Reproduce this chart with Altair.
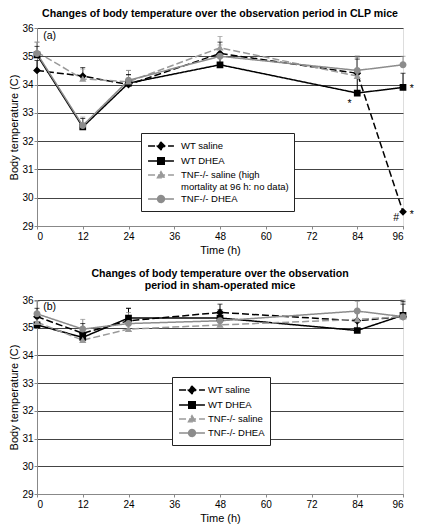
import altair as alt
import pandas as pd

# ---------------- data ----------------
hours = [0, 12, 24, 48, 84, 96]
series_names = ["WT saline", "WT DHEA", "TNF-/- saline", "TNF-/- DHEA"]

# (a) CLP mice
clp_wt_saline = [34.5, 34.3, 34.0, 35.1, 34.4, 29.5]
clp_wt_dhea = [35.05, 32.5, 34.05, 34.7, 33.7, 33.9]
clp_tnf_saline = [35.15, 34.2, 34.1, 35.3, 34.3, None]
clp_tnf_dhea = [35.1, 32.55, 34.15, 35.0, 34.5, 34.7]

clp_wt_saline_err = [0.35, 0.3, 0.35, 0.4, 0.5, 0.0]
clp_wt_dhea_err = [0.3, 0.3, 0.3, 0.3, 1.3, 0.5]
clp_tnf_saline_err = [0.35, 0.35, 0.4, 0.4, 0.7, None]
clp_tnf_dhea_err = [0.4, 0.3, 0.35, 0.4, 0.45, 0.3]

# (b) sham-operated mice
sham_wt_saline = [35.4, 34.8, 35.25, 35.55, 35.25, 35.4]
sham_wt_dhea = [35.1, 34.65, 35.35, 35.35, 34.9, 35.45]
sham_tnf_saline = [35.2, 34.55, 34.95, 35.1, 35.3, 35.4]
sham_tnf_dhea = [35.5, 34.95, 35.15, 35.25, 35.6, 35.4]

sham_wt_saline_err = [0.3, 0.35, 0.45, 0.3, 0.3, 0.55]
sham_wt_dhea_err = [0.3, 0.3, 0.35, 0.3, 0.3, 0.4]
sham_tnf_saline_err = [0.3, 0.4, 0.4, 0.3, 0.35, 0.5]
sham_tnf_dhea_err = [0.45, 0.35, 0.4, 0.35, 0.35, 0.6]

# annotations
clp_notes = ["(a)", "*", "*", "#", "*"]
clp_notes_x = [3.3, 82.0, 98.3, 94.2, 98.3]
clp_notes_y = [35.72, 33.3, 33.85, 29.28, 29.38]
sham_notes = ["(b)"]
sham_notes_x = [3.3]
sham_notes_y = [35.75]

y_ticks = [29, 30, 31, 32, 33, 34, 35, 36]
x_ticks = [0, 12, 24, 36, 48, 60, 72, 84, 96]

title_a = "Changes of body temperature over the observation period in CLP mice"
title_b = ["Changes of body temperature over the observation", "period in sham-operated mice"]

# ---------------- styling ----------------
FONT = "Liberation Sans"
colors = ["#000000", "#000000", "#9a9a9a", "#8c8c8c"]
dashes = [[7, 3], [1, 0], [7, 3], [1, 0]]
stub = "M-1.85,0H1.85"
shapes = [
    stub + "M0,-0.56L0.56,0L0,0.56L-0.56,0Z",
    stub + "M-0.48,-0.48H0.48V0.48H-0.48Z",
    stub + "M0,-0.5L0.52,0.4H-0.52Z",
    stub + "M0.5,0A0.5,0.5,0,1,1,-0.5,0A0.5,0.5,0,1,1,0.5,0Z",
]


def long_df(values, errs):
    rows = []
    for name, vals, es in zip(series_names, values, errs):
        for h, v, e in zip(hours, vals, es):
            if v is None:
                continue
            rows.append({"hour": h, "temp": v, "err": e, "series": name})
    return pd.DataFrame(rows)


def panel(df, notes_df, title, height, lx, ly, label_offset, label_expr=None):
    legend_kw = dict(
        title=None, orient="none", legendX=lx, legendY=ly, direction="vertical",
        fillColor="white", strokeColor="#222", padding=5,
        labelFont=FONT, labelFontSize=9.5, labelColor="black",
        symbolSize=196, symbolStrokeWidth=1.3, symbolOffset=7, symbolOpacity=1,
        labelOffset=label_offset, rowPadding=0, labelLimit=300,
    )
    if label_expr:
        legend_kw["labelExpr"] = label_expr
    leg = alt.Legend(**legend_kw)

    col = alt.Color("series:N", scale=alt.Scale(domain=series_names, range=colors), legend=leg)
    stroke = alt.Stroke("series:N", scale=alt.Scale(domain=series_names, range=colors), legend=leg)
    dash = alt.StrokeDash("series:N", scale=alt.Scale(domain=series_names, range=dashes), legend=leg)
    shp = alt.Shape("series:N", scale=alt.Scale(domain=series_names, range=shapes), legend=leg)

    xscale = alt.Scale(domain=[0, 96], nice=False)
    yscale = alt.Scale(domain=[29, 36], nice=False, zero=False)
    xaxis = alt.Axis(values=x_ticks, tickCount=9, title="Time (h)", grid=False, tickSize=3,
                     labelPadding=2, titlePadding=3, labelAngle=0,
                     labelOverlap=False, titleFontWeight="normal")
    yaxis = alt.Axis(values=y_ticks, tickCount=8, title="Body temperature (C)", grid=True,
                     gridColor="#444", gridWidth=1, tickSize=3,
                     labelPadding=1, titlePadding=2, labelOverlap=False,
                     labelFlush=False, titleFontWeight="normal")
    x = alt.X("hour:Q", scale=xscale, axis=xaxis)
    y = alt.Y("temp:Q", scale=yscale, axis=yaxis)

    base = alt.Chart(df)
    errs = base.transform_calculate(top="datum.temp + datum.err").transform_filter(
        "datum.err > 0")
    rules = errs.mark_rule(strokeWidth=1).encode(x=x, y=y, y2="top:Q", color=col)
    caps = errs.mark_tick(orient="horizontal", size=5, thickness=1).encode(
        x=x, y=alt.Y("top:Q", scale=yscale, axis=yaxis), color=col)
    lines = base.mark_line(strokeWidth=1.5).encode(x=x, y=y, color=col, strokeDash=dash,
                                                   detail="series:N")
    points = base.mark_point(filled=True, size=196, opacity=1, strokeWidth=0).encode(
        x=x, y=y, color=col, stroke=stroke, shape=shp)
    notes = alt.Chart(notes_df).mark_text(font=FONT, fontSize=10.5, color="black",
                                          baseline="middle", align="center").encode(
        x=alt.X("x:Q", scale=xscale, axis=xaxis),
        y=alt.Y("y:Q", scale=yscale, axis=yaxis), text="t:N")

    return alt.layer(rules, caps, lines, points, notes).properties(
        width=366, height=height,
        title=alt.Title(title, font=FONT, fontSize=10.6, fontWeight="bold",
                        anchor="middle", offset=3, lineHeight=12, color="black"),
    )


df_a = long_df([clp_wt_saline, clp_wt_dhea, clp_tnf_saline, clp_tnf_dhea],
               [clp_wt_saline_err, clp_wt_dhea_err, clp_tnf_saline_err, clp_tnf_dhea_err])
df_b = long_df([sham_wt_saline, sham_wt_dhea, sham_tnf_saline, sham_tnf_dhea],
               [sham_wt_saline_err, sham_wt_dhea_err, sham_tnf_saline_err, sham_tnf_dhea_err])
notes_a = pd.DataFrame({"t": clp_notes, "x": clp_notes_x, "y": clp_notes_y})
notes_b = pd.DataFrame({"t": sham_notes, "x": sham_notes_x, "y": sham_notes_y})

expr_a = ("datum.label == 'TNF-/- saline' ? ['TNF-/- saline (high', "
          "'mortality at 96 h: no data)'] : datum.label")

top = panel(df_a, notes_a, title_a, 198, 104, 105, 12, expr_a)
bottom = panel(df_b, notes_b, title_b, 194, 135, 77, 8)

chart = alt.vconcat(top, bottom, spacing=12).resolve_scale(
    color="independent", shape="independent", strokeDash="independent", stroke="independent"
).resolve_legend(
    color="independent", shape="independent", strokeDash="independent", stroke="independent"
).properties(
    padding={"left": 0, "top": 0, "right": 0, "bottom": 0}
).configure_view(
    stroke="#555", strokeWidth=1
).configure_axis(
    labelFont=FONT, titleFont=FONT, labelFontSize=10.5, titleFontSize=10.5,
    titleFontWeight="normal", labelColor="black", titleColor="black",
    domainColor="#333", tickColor="#333"
).configure(background="white")

chart.save("out.html", embed_options={"renderer": "svg", "actions": False})
